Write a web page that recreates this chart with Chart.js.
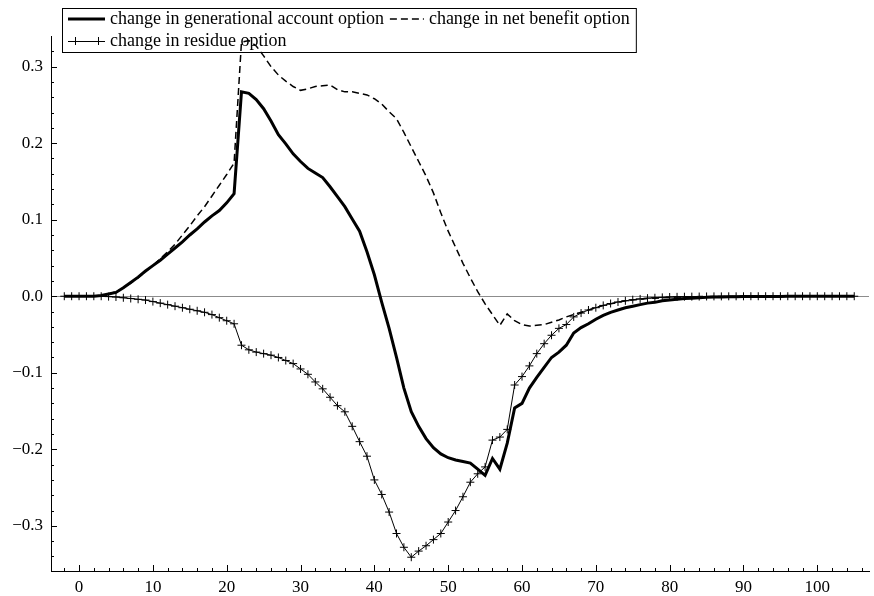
<!DOCTYPE html>
<html><head><meta charset="utf-8">
<script src="https://cdn.jsdelivr.net/npm/chart.js@4.4.1/dist/chart.umd.min.js"></script>
<style>html,body{margin:0;padding:0;background:#fff;} #wrap{position:relative;width:874px;height:596px;}</style>
</head><body><div id="wrap"><canvas id="c" width="874" height="596"></canvas></div>
<script>
const ages = [-2,-1,0,1,2,3,4,5,6,7,8,9,10,11,12,13,14,15,16,17,18,19,20,21,22,23,24,25,26,27,28,29,30,31,32,33,34,35,36,37,38,39,40,41,42,43,44,45,46,47,48,49,50,51,52,53,54,55,56,57,58,59,60,61,62,63,64,65,66,67,68,69,70,71,72,73,74,75,76,77,78,79,80,81,82,83,84,85,86,87,88,89,90,91,92,93,94,95,96,97,98,99,100,101,102,103,104,105];

const generationalAccount = [0,0,0,0,0,0.001,0.003,0.005,0.011,0.018,0.025,0.033,0.040,0.047,0.055,0.063,0.071,0.080,0.088,0.097,0.105,0.112,0.122,0.134,
0.267,0.265,0.257,0.245,0.229,0.211,0.199,0.186,0.176,0.167,0.161,0.155,0.143,0.130,0.117,0.101,0.085,0.058,0.028,-0.008,-0.042,-0.080,-0.120,-0.151,
-0.170,-0.186,-0.198,-0.206,-0.211,-0.214,-0.216,-0.218,-0.226,-0.234,-0.212,-0.226,-0.192,-0.146,-0.140,-0.120,-0.106,-0.093,-0.080,-0.073,-0.064,-0.048,
-0.041,-0.036,-0.030,-0.025,-0.021,-0.018,-0.015,-0.013,-0.011,-0.009,-0.008,-0.006,-0.005,-0.004,-0.003,-0.0025,-0.002,-0.0015,-0.001,-0.001,-0.0008,-0.0006,-0.0005,
-0.0004,-0.0003,-0.0003,-0.0002,-0.0002,-0.0001,-0.0001,-0.0001,0,0,0,0,0,0,0];

const netBenefit = [0,0,0,0,0,0.001,0.003,0.006,0.011,0.017,0.024,0.032,0.040,0.049,0.058,0.068,0.080,0.092,0.105,0.117,0.131,0.145,0.159,0.174,
0.332,0.334,0.327,0.314,0.300,0.289,0.281,0.274,0.269,0.271,0.274,0.275,0.276,0.270,0.267,0.267,0.265,0.263,0.258,0.251,0.241,0.232,0.214,0.195,
0.176,0.157,0.135,0.109,0.085,0.064,0.043,0.024,0.006,-0.010,-0.024,-0.038,-0.023,-0.032,-0.037,-0.039,-0.038,-0.037,-0.034,-0.031,-0.027,-0.024,
-0.021,-0.018,-0.015,-0.012,-0.010,-0.008,-0.006,-0.005,-0.004,-0.003,-0.0025,-0.002,-0.0015,-0.001,-0.0008,-0.0006,-0.0005,-0.0004,-0.0003,-0.0003,-0.0002,-0.0002,-0.0001,
-0.0001,-0.0001,0,0,0,0,0,0,0,0,0,0,0,0,0];

const residue = [0,0,0,0,0,0,-0.0005,-0.001,-0.002,-0.003,-0.004,-0.005,-0.007,-0.009,-0.011,-0.013,-0.015,-0.017,-0.019,-0.021,-0.024,-0.028,-0.032,-0.036,
-0.064,-0.070,-0.073,-0.075,-0.077,-0.080,-0.084,-0.088,-0.095,-0.102,-0.112,-0.121,-0.132,-0.143,-0.151,-0.170,-0.190,-0.209,-0.240,-0.259,-0.282,-0.310,-0.328,-0.341,
-0.333,-0.326,-0.318,-0.310,-0.295,-0.280,-0.262,-0.243,-0.232,-0.223,-0.188,-0.184,-0.174,-0.116,-0.105,-0.091,-0.075,-0.062,-0.051,-0.042,-0.037,-0.027,
-0.022,-0.018,-0.015,-0.012,-0.0095,-0.0075,-0.006,-0.0045,-0.0035,-0.0025,-0.002,-0.0015,-0.001,-0.0008,-0.0006,-0.0005,-0.0004,-0.0003,-0.0002,-0.0002,-0.0001,-0.0001,-0.0001,
0,0,0,0,0,0,0,0,0,0,0,0,0,0,0];

const seriesNames = ['change in generational account option','change in net benefit option','change in residue option'];
const xTickValues = [0,10,20,30,40,50,60,70,80,90,100];
const yTickValues = [-0.3,-0.2,-0.1,0.0,0.1,0.2,0.3];

const FONT = "'Liberation Serif','Times New Roman',serif";
const toPts = arr => ages.map((a,i)=>({x:a,y:arr[i]}));

const decor = {
  id:'decor',
  beforeDatasetsDraw(chart){
    const {ctx, chartArea:a, scales:{x,y}} = chart;
    ctx.save();
    // zero line
    const y0 = Math.round(y.getPixelForValue(0))+0.5;
    ctx.strokeStyle='#8c8c8c'; ctx.lineWidth=1;
    ctx.beginPath(); ctx.moveTo(a.left,y0); ctx.lineTo(a.right,y0); ctx.stroke();
    // inward ticks
    ctx.strokeStyle='#000'; ctx.lineWidth=1;
    ctx.beginPath();
    for(let v=-2; v<=x.max; v+=2){
      const px = Math.round(x.getPixelForValue(v))+0.5;
      const len = (v%10===0)?6:3;
      ctx.moveTo(px,a.bottom); ctx.lineTo(px,a.bottom-len);
    }
    for(let k=-17; k<=16; k++){
      const v = k*0.02;
      if (v < y.min || v > y.max) continue;
      const py = Math.round(y.getPixelForValue(v))+0.5;
      const len = (k%5===0)?6:3;
      ctx.moveTo(a.left,py); ctx.lineTo(a.left+len,py);
    }
    ctx.stroke();
    // legend
    ctx.font = "18px " + FONT;
    ctx.textBaseline='middle';
    const L=62, T=8, row1=19, row2=41;
    const t1x = 110;
    const w1 = ctx.measureText(seriesNames[0]).width;
    const d0 = t1x + w1 + 6, d1 = d0 + 34;
    const t2x = d1 + 5;
    const w2 = ctx.measureText(seriesNames[1]).width;
    const R = t2x + w2 + 6, B = 52;
    ctx.fillStyle='#fff'; ctx.fillRect(L,T,R-L,B-T);
    ctx.strokeStyle='#000'; ctx.lineWidth=1;
    ctx.strokeRect(L+0.5,T+0.5,R-L,B-T);
    ctx.fillStyle='#000';
    ctx.fillText(seriesNames[0], t1x, row1);
    ctx.fillText(seriesNames[1], t2x, row1);
    ctx.fillText(seriesNames[2], t1x, row2);
    ctx.lineWidth=3; ctx.beginPath(); ctx.moveTo(68,row1); ctx.lineTo(105,row1); ctx.stroke();
    ctx.lineWidth=1.5; ctx.setLineDash([7,4]); ctx.beginPath(); ctx.moveTo(d0,row1); ctx.lineTo(d1,row1); ctx.stroke();
    ctx.setLineDash([]);
    ctx.lineWidth=1; ctx.beginPath(); ctx.moveTo(68,row2+0.5); ctx.lineTo(105,row2+0.5);
    [75,98].forEach(cx=>{ctx.moveTo(cx-4,row2+0.5); ctx.lineTo(cx+4,row2+0.5); ctx.moveTo(cx+0.5,row2-4); ctx.lineTo(cx+0.5,row2+4);});
    ctx.stroke();
    ctx.restore();
  }
};

new Chart(document.getElementById('c'), {
  type:'line',
  data:{ datasets:[
    {label:seriesNames[0], data:toPts(generationalAccount), borderColor:'#000', borderWidth:3, pointRadius:0, tension:0, fill:false},
    {label:seriesNames[1], data:toPts(netBenefit), borderColor:'#000', borderWidth:1.5, borderDash:[7,4], pointRadius:0, tension:0, fill:false},
    {label:seriesNames[2], data:toPts(residue), borderColor:'#000', borderWidth:1, pointStyle:'cross', pointRadius:4, pointBorderWidth:1, pointBorderColor:'#000', tension:0, fill:false}
  ]},
  options:{
    responsive:false, animation:false, devicePixelRatio:1,
    layout:{padding:{top:36,left:0,right:0,bottom:0}},
    plugins:{legend:{display:false}, tooltip:{enabled:false}},
    elements:{line:{capBezierPoints:false}},
    scales:{
      x:{type:'linear', min:-3.8, max:107,
        grid:{display:false, drawTicks:false},
        border:{display:true, color:'#000', width:1},
        afterBuildTicks:s=>{s.ticks = xTickValues.map(v=>({value:v}));},
        afterFit:s=>{s.height=25;},
        ticks:{color:'#000', font:{family:FONT, size:17}, padding:6, maxRotation:0, autoSkip:false, callback:v=>String(v)}
      },
      y:{type:'linear', min:-0.359, max:0.340,
        grid:{display:false, drawTicks:false},
        border:{display:true, color:'#000', width:1},
        afterBuildTicks:s=>{s.ticks = yTickValues.map(v=>({value:v}));},
        afterFit:s=>{s.width=51;},
        ticks:{color:'#000', font:{family:FONT, size:17}, padding:8, autoSkip:false, callback:v=>v.toFixed(1).replace('-','\u2212')}
      }
    }
  },
  plugins:[decor]
});
</script></body></html>
